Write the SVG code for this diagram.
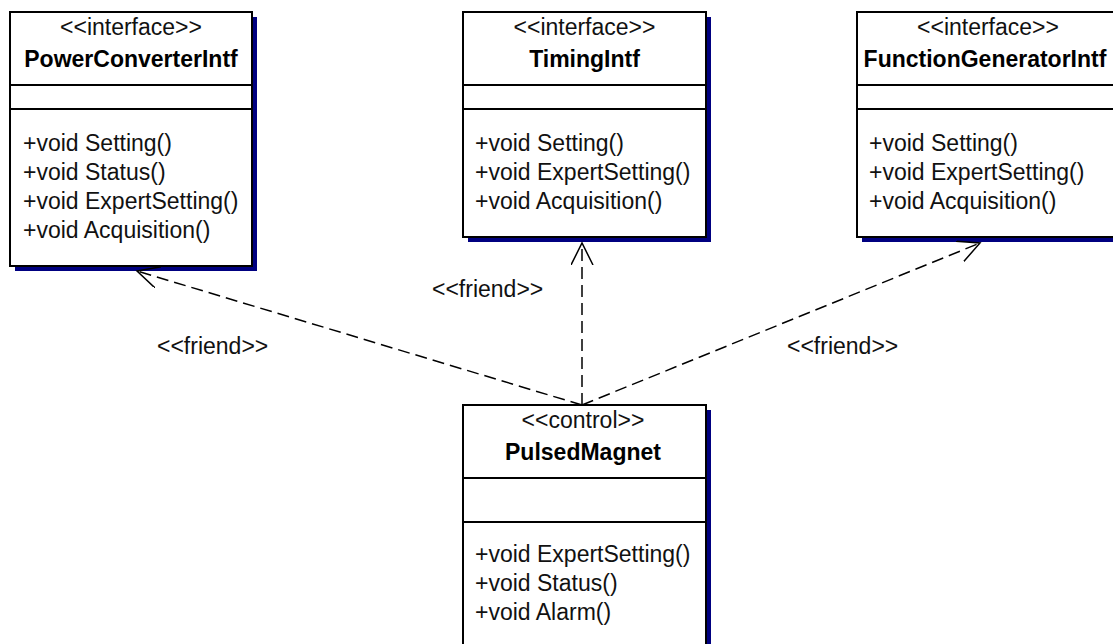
<svg xmlns="http://www.w3.org/2000/svg" width="1113" height="644" viewBox="0 0 1113 644">
<style>
.shadow{fill:#000080;}
.box{fill:#fff;stroke:#000;stroke-width:2;}
.div{stroke:#000;stroke-width:2;}
.st{font-family:"Liberation Sans",Arial,sans-serif;font-size:23px;fill:#111;text-anchor:middle;}
.ti{font-family:"Liberation Sans",Arial,sans-serif;font-size:23px;font-weight:bold;fill:#000;text-anchor:middle;}
.m{font-family:"Liberation Sans",Arial,sans-serif;font-size:23px;fill:#111;}
.lbl{font-family:"Liberation Sans",Arial,sans-serif;font-size:23px;fill:#111;}
.conn{fill:none;stroke:#000;stroke-width:1.5;stroke-dasharray:12 6;}
</style>
<defs>
<marker id="open" markerUnits="userSpaceOnUse" markerWidth="30" markerHeight="30" refX="22" refY="11" orient="auto">
<path d="M0,0 L22,11 L0,22" fill="none" stroke="#000" stroke-width="1.5"/>
</marker>
</defs>
<rect width="1113" height="644" fill="#fff"/>

<g id="PowerConverterIntf">
<rect class="shadow" x="15" y="17" width="242" height="254"/>
<rect class="box" x="10" y="12" width="242" height="254"/>
<line class="div" x1="10" y1="85" x2="252" y2="85"/>
<line class="div" x1="10" y1="109" x2="252" y2="109"/>
<text class="st" x="131" y="35">&lt;&lt;interface&gt;&gt;</text>
<text class="ti" x="131" y="67">PowerConverterIntf</text>
<text class="m" x="23" y="151">+void Setting()</text>
<text class="m" x="23" y="180">+void Status()</text>
<text class="m" x="23" y="209">+void ExpertSetting()</text>
<text class="m" x="23" y="238">+void Acquisition()</text>
</g>

<g id="TimingIntf">
<rect class="shadow" x="468" y="17" width="243" height="225"/>
<rect class="box" x="463" y="12" width="243" height="225"/>
<line class="div" x1="463" y1="85" x2="706" y2="85"/>
<line class="div" x1="463" y1="109" x2="706" y2="109"/>
<text class="st" x="584.5" y="35">&lt;&lt;interface&gt;&gt;</text>
<text class="ti" x="584.5" y="67">TimingIntf</text>
<text class="m" x="475" y="151">+void Setting()</text>
<text class="m" x="475" y="180">+void ExpertSetting()</text>
<text class="m" x="475" y="209">+void Acquisition()</text>
</g>

<g id="FunctionGeneratorIntf">
<rect class="shadow" x="862" y="17" width="262" height="225"/>
<rect class="box" x="857" y="12" width="262" height="225"/>
<line class="div" x1="857" y1="85" x2="1119" y2="85"/>
<line class="div" x1="857" y1="109" x2="1119" y2="109"/>
<text class="st" x="988" y="35">&lt;&lt;interface&gt;&gt;</text>
<text class="ti" x="985" y="67">FunctionGeneratorIntf</text>
<text class="m" x="869" y="151">+void Setting()</text>
<text class="m" x="869" y="180">+void ExpertSetting()</text>
<text class="m" x="869" y="209">+void Acquisition()</text>
</g>

<g id="PulsedMagnet">
<rect class="shadow" x="468" y="410" width="243" height="260"/>
<rect class="box" x="463" y="405" width="243" height="260"/>
<line class="div" x1="463" y1="478" x2="706" y2="478"/>
<line class="div" x1="463" y1="522" x2="706" y2="522"/>
<text class="st" x="583" y="428">&lt;&lt;control&gt;&gt;</text>
<text class="ti" x="583" y="460">PulsedMagnet</text>
<text class="m" x="475" y="562">+void ExpertSetting()</text>
<text class="m" x="475" y="591">+void Status()</text>
<text class="m" x="475" y="620">+void Alarm()</text>
</g>

<g id="connectors">
<line class="conn" x1="582" y1="405" x2="137" y2="271" marker-end="url(#open)"/>
<line class="conn" x1="582" y1="405" x2="582" y2="243" marker-end="url(#open)"/>
<line class="conn" x1="582" y1="405" x2="980" y2="243" marker-end="url(#open)"/>
<text class="lbl" x="157" y="354">&lt;&lt;friend&gt;&gt;</text>
<text class="lbl" x="432" y="297">&lt;&lt;friend&gt;&gt;</text>
<text class="lbl" x="787" y="354">&lt;&lt;friend&gt;&gt;</text>
</g>
</svg>
